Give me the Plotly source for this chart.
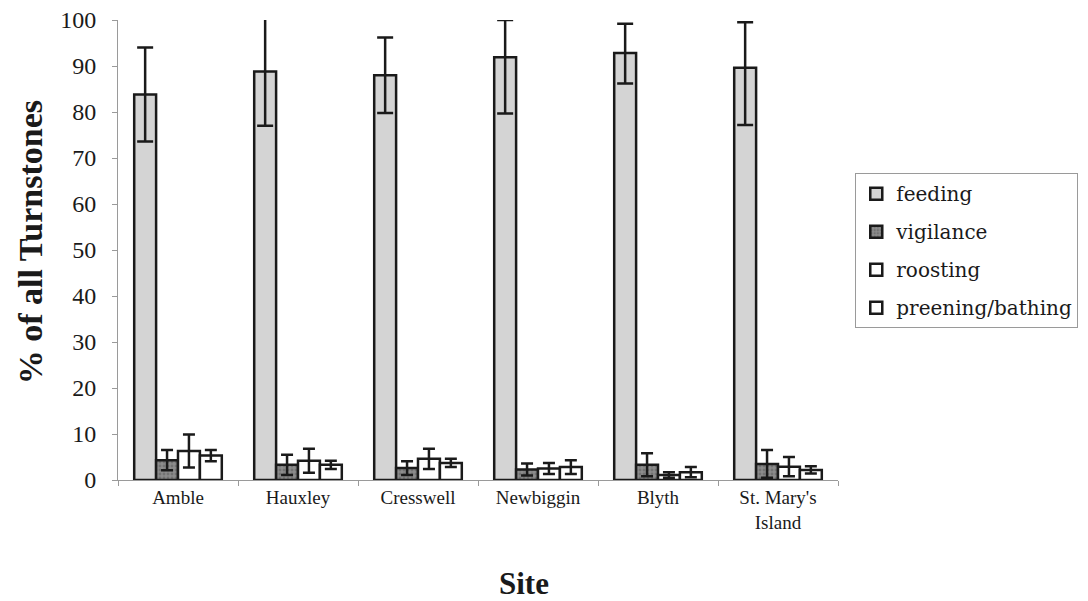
import plotly.graph_objects as go

sites = ["Amble", "Hauxley", "Cresswell", "Newbiggin", "Blyth", "St. Mary's<br>Island"]

feeding = [83.8, 88.8, 88.0, 91.9, 92.8, 89.6]
feeding_up = [10.2, 11.9, 8.2, 8.1, 6.4, 9.9]
feeding_down = [10.2, 11.8, 8.2, 12.2, 6.6, 12.4]

vigilance = [4.3, 3.3, 2.6, 2.3, 3.3, 3.5]
vigilance_err = [2.2, 2.2, 1.5, 1.3, 2.5, 3.0]

roosting = [6.3, 4.2, 4.6, 2.5, 1.1, 2.9]
roosting_err = [3.6, 2.6, 2.2, 1.2, 0.6, 2.1]

preening = [5.3, 3.3, 3.7, 2.8, 1.7, 2.2]
preening_err = [1.2, 0.9, 0.9, 1.5, 1.1, 0.8]

serif = "Liberation Serif"
err_style = dict(color="#1a1a1a", thickness=2.5)

fig = go.Figure()
fig.add_trace(go.Bar(
    x=sites, y=feeding, name="feeding", legendgroup="a", cliponaxis=False,
    marker=dict(color="#d4d4d4", line=dict(color="#1a1a1a", width=2.5)),
    error_y=dict(type="data", symmetric=False, array=feeding_up,
                 arrayminus=feeding_down, width=8, **err_style)
))
fig.add_trace(go.Bar(
    x=sites, y=vigilance, name="vigilance", legendgroup="b", cliponaxis=False,
    marker=dict(color="#8c8c8c", line=dict(color="#1a1a1a", width=2.5),
                pattern=dict(shape=".", fgcolor="#5a5a5a", size=4, solidity=0.4)),
    error_y=dict(type="data", array=vigilance_err, width=6, **err_style)
))
fig.add_trace(go.Bar(
    x=sites, y=roosting, name="roosting", legendgroup="c", cliponaxis=False,
    marker=dict(color="white", line=dict(color="#1a1a1a", width=2.5)),
    error_y=dict(type="data", array=roosting_err, width=6, **err_style)
))
fig.add_trace(go.Bar(
    x=sites, y=preening, name="preening/bathing", legendgroup="d", cliponaxis=False,
    marker=dict(color="white", line=dict(color="#1a1a1a", width=2.5)),
    error_y=dict(type="data", array=preening_err, width=6, **err_style)
))

fig.update_layout(
    width=1080,
    height=593,
    barmode="group",
    bargap=0.27,
    bargroupgap=0,
    plot_bgcolor="white",
    paper_bgcolor="white",
    margin=dict(l=110, r=250, t=12, b=121, autoexpand=False),
    font=dict(family=serif, color="#1a1a1a"),
    xaxis=dict(
        tickfont=dict(size=19, family=serif),
        showline=True, linecolor="#9a9a9a", linewidth=1,
        ticks="outside", tickson="boundaries", ticklen=5, tickcolor="#9a9a9a",
        showgrid=False,
    ),
    yaxis=dict(
        tickfont=dict(size=24, family=serif),
        range=[0, 100], dtick=10,
        showline=True, linecolor="#9a9a9a", linewidth=1,
        ticks="outside", ticklen=5, tickcolor="#9a9a9a",
        ticklabelstandoff=11, ticklabeloverflow="allow",
        showgrid=False, zeroline=False,
    ),
    showlegend=True,
    legend=dict(
        x=1.024, y=0.667, xanchor="left", yanchor="top",
        font=dict(size=20, family="DejaVu Serif", color="#1a1a1a"),
        bgcolor="white", bordercolor="#9a9a9a", borderwidth=1,
        traceorder="grouped", tracegroupgap=9,
    ),
    annotations=[
        dict(text="<b>Site</b>", xref="paper", yref="paper", x=0.564, y=-0.224,
             xanchor="center", yanchor="middle", showarrow=False,
             font=dict(size=31, family=serif)),
        dict(text="<b>% of all Turnstones</b>", xref="paper", yref="paper",
             x=-0.122, y=0.517, xanchor="center", yanchor="middle",
             textangle=-90, showarrow=False, font=dict(size=34, family=serif)),
    ],
)

fig.write_html("out.html")
